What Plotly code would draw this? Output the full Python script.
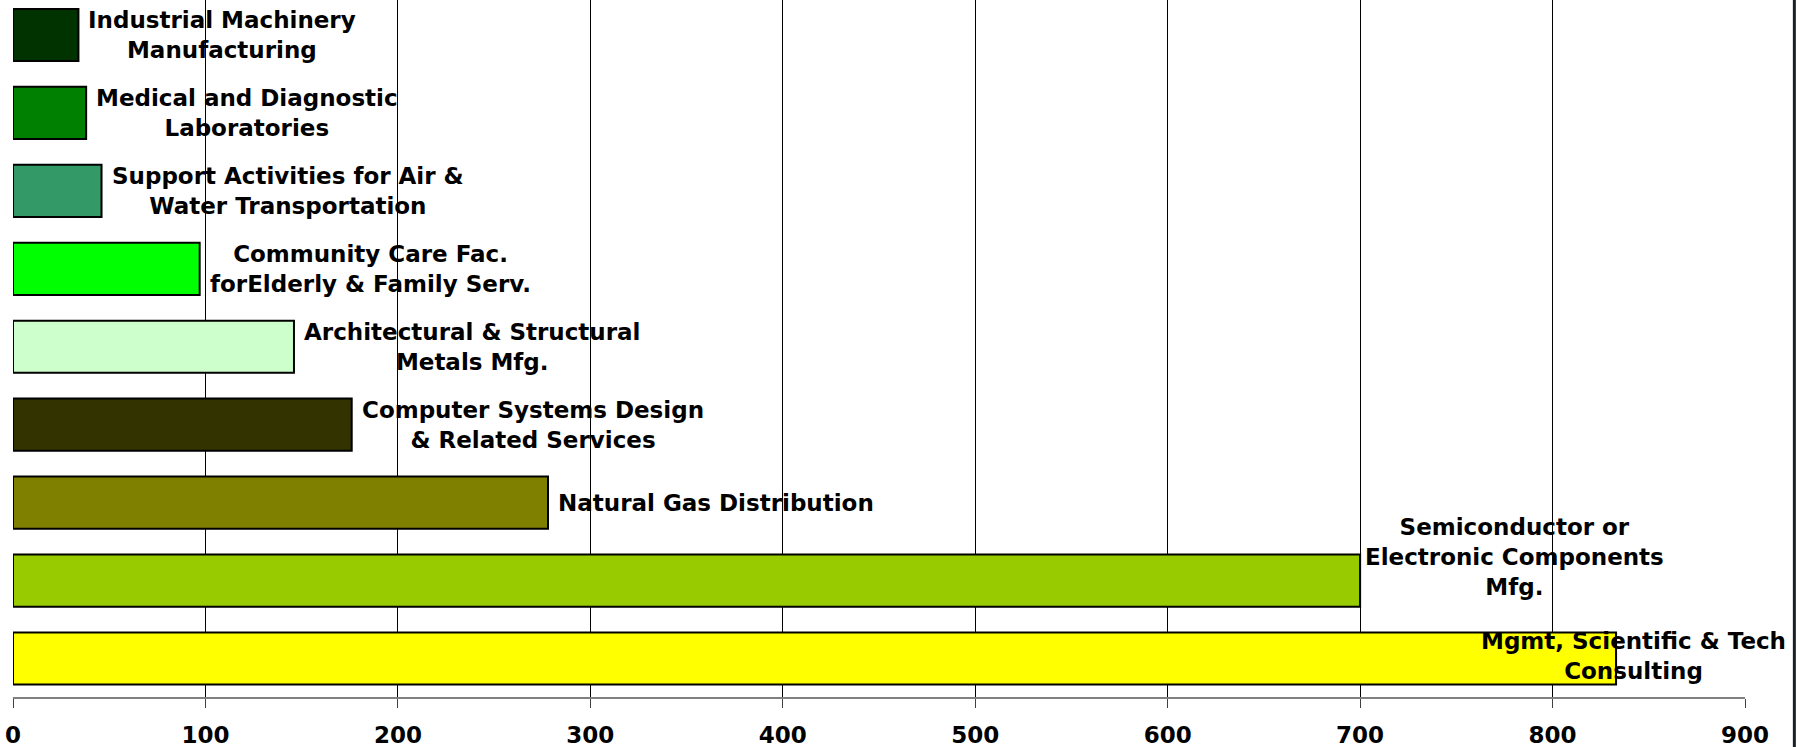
import plotly.graph_objects as go

# categories from bottom to top
categories = [
    "Mgmt, Scientific & Tech<br>Consulting",
    "Semiconductor or<br>Electronic Components<br>Mfg.",
    "Natural Gas Distribution",
    "Computer Systems Design<br>& Related Services",
    "Architectural & Structural<br>Metals Mfg.",
    "Community Care Fac.<br>forElderly & Family Serv.",
    "Support Activities for Air &<br>Water Transportation",
    "Medical and Diagnostic<br>Laboratories",
    "Industrial Machinery<br>Manufacturing",
]
values = [833, 700, 278, 176, 146, 97, 46, 38, 34]
bar_colors = ["#FFFF00", "#99CC00", "#808000", "#333300", "#CCFFCC",
              "#00FF00", "#339966", "#008000", "#003300"]
tick_vals = [0, 100, 200, 300, 400, 500, 600, 700, 800, 900]

FONT = dict(family="DejaVu Sans", size=23, color="black", weight="bold")

fig = go.Figure()
fig.add_trace(go.Bar(
    x=values, y=list(range(len(categories))), orientation="h",
    marker=dict(color=bar_colors, line=dict(color="black", width=2)),
    width=0.67, showlegend=False, hoverinfo="x",
))

# data labels sit to the right of each bar end (like excel "outside end")
for i, (lab, v) in enumerate(zip(categories, values)):
    ann = dict(x=v, y=i, xref="x", yref="y", text=lab, showarrow=False,
               align="center", font=FONT, xanchor="left", xshift=8)
    if i == 0:
        # no room at the right edge, label pushed back over the bar
        ann.update(xanchor="center", xshift=17, yshift=3)
    elif i == 1:
        ann.update(xanchor="left", xshift=3, yshift=24)
    fig.add_annotation(**ann)

fig.update_xaxes(
    range=[0, 900], tickvals=tick_vals, ticktext=[str(t) for t in tick_vals],
    showgrid=True, gridcolor="black", gridwidth=1,
    showline=True, linecolor="#808080", linewidth=2,
    ticks="outside", ticklen=9, tickcolor="#404040", tickwidth=1,
    tickfont=FONT, ticklabelstandoff=7, zeroline=False,
)
fig.update_yaxes(range=[-0.494, 8.449], showticklabels=False, showgrid=False,
                 zeroline=False, showline=False)

# dark frame edge on the right of the picture
fig.add_shape(type="line", xref="paper", yref="paper", x0=1.0285, x1=1.0285,
              y0=-0.08, y1=1.0, line=dict(color="#1a1f2a", width=3))

fig.update_layout(
    width=1797, height=747,
    margin=dict(l=13, r=52, t=0, b=50, autoexpand=False),
    plot_bgcolor="white", paper_bgcolor="white",
    bargap=0.33,
)

# page has a default 8px body margin, drop it so the chart sits at 0,0
fig.write_html("out.html", config={"displayModeBar": False},
               post_script="document.body.style.margin='0';")
